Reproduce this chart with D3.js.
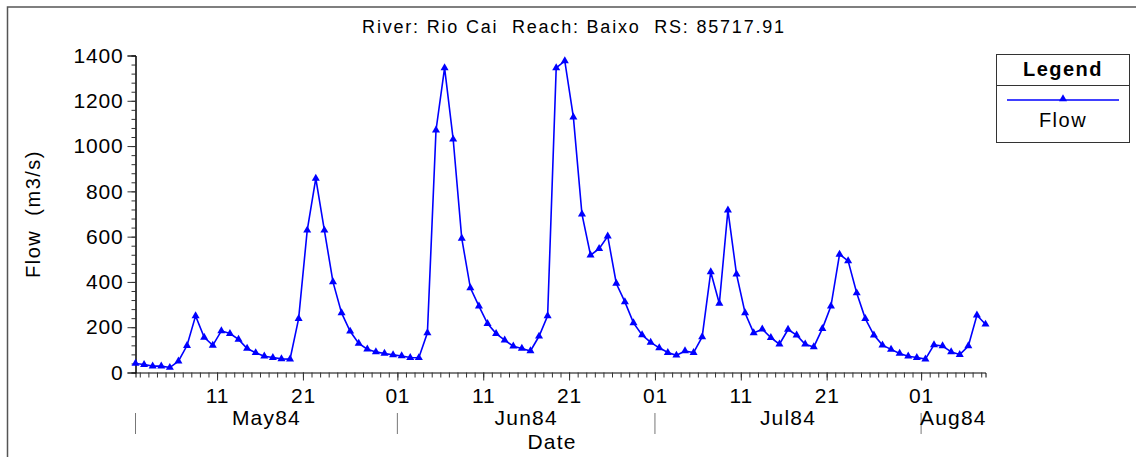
<!DOCTYPE html>
<html>
<head>
<meta charset="utf-8">
<script src="https://cdn.jsdelivr.net/npm/d3@7"></script>
<style>
body { margin: 0; background: #fff; }
svg text { font-family: "Liberation Sans", Arial, sans-serif; fill: #000; white-space: pre; }
</style>
</head>
<body>
<svg width="1136" height="457"></svg>
<script>
// daily flow (m3/s), one value per day at noon
const mayFlow = [40, 35, 28, 28, 22, 50, 119, 250, 155, 120, 184, 172, 146, 106, 87, 72, 66, 60, 59, 238, 628, 857, 628, 400, 263, 182, 128, 103, 91, 84, 78];
const junFlow = [73, 66, 65, 175, 1070, 1345, 1030, 592, 374, 293, 216, 172, 143, 116, 106, 95, 160, 250, 1345, 1376, 1128, 699, 518, 547, 602, 393, 312, 219, 166, 133];
const julFlow = [109, 88, 76, 95, 88, 157, 444, 305, 717, 434, 263, 175, 191, 154, 125, 190, 165, 125, 113, 194, 293, 522, 493, 351, 238, 165, 121, 102, 84, 72, 66];
const augFlow = [59, 122, 117, 91, 79, 117, 253, 213];

const monthIdx = [4, 5, 6, 7];
const monthLabels = ["May84", "Jun84", "Jul84", "Aug84"];
const yTicks = [0, 200, 400, 600, 800, 1000, 1200, 1400];
const dayTicks = [1, 11, 21];

const title = "River: Rio Cai  Reach: Baixo  RS: 85717.91";
const yTitle = "Flow  (m3/s)";
const xTitle = "Date";
const seriesName = "Flow";

const data = [];
[mayFlow, junFlow, julFlow, augFlow].forEach(function(arr, m) {
    arr.forEach(function(v, i) {
        data.push({date: new Date(Date.UTC(1984, monthIdx[m], i + 1, 12)), flow: v});
    });
});

var svg = d3.select("svg");
var plotL = 135.5, plotR = 985.5, plotT = 55.5, plotB = 372.5;

var x = d3.scaleUtc()
    .domain(d3.extent(data, function(d) { return d.date; }))
    .range([plotL, plotR]);
var y = d3.scaleLinear().domain([0, 1400]).range([plotB, plotT]);

// frame
svg.append("path").attr("d", "M7.5,457V7H1136")
    .attr("fill", "none").attr("stroke", "#555").attr("stroke-width", 1.5);

svg.append("text").attr("x", 574).attr("y", 33)
    .attr("text-anchor", "middle").attr("font-size", 18)
    .attr("letter-spacing", 1.8).text(title);

// y axis
svg.append("g").attr("transform", "translate(" + plotL + ",0)")
    .call(d3.axisLeft(y).tickValues(d3.range(0, 1401, 40)).tickSize(4).tickFormat(""))
    .call(g => g.selectAll("line").attr("stroke", "#333"));
var ya = svg.append("g").attr("transform", "translate(" + plotL + ",0)")
    .call(d3.axisLeft(y).tickValues(yTicks).tickSize(8).tickPadding(4).tickFormat(d3.format("d")))
    .call(g => g.selectAll("line").attr("stroke", "#333"));
ya.selectAll("text").attr("font-size", 21).attr("letter-spacing", 0.8)
    .attr("font-family", "Liberation Sans, Arial, sans-serif");
ya.select(".domain").attr("stroke", "#000");

// x axis
var days = d3.utcDay.range(d3.utcDay.ceil(x.domain()[0]), x.domain()[1]);
svg.append("g").attr("transform", "translate(0," + plotB + ")")
    .call(d3.axisBottom(x).tickValues(days).tickSize(5).tickFormat(""))
    .call(g => g.selectAll("line").attr("stroke", "#333"))
    .call(g => g.select(".domain").attr("stroke", "#000"));
var majors = days.filter(function(d) { return dayTicks.indexOf(d.getUTCDate()) >= 0; });
var xa = svg.append("g").attr("transform", "translate(0," + plotB + ")")
    .call(d3.axisBottom(x).tickValues(majors).tickSize(8).tickPadding(8)
        .tickFormat(d3.utcFormat("%d")))
    .call(g => g.select(".domain").remove())
    .call(g => g.selectAll("line").attr("stroke", "#333"));
xa.selectAll("text").attr("font-size", 21).attr("letter-spacing", 0.8)
    .attr("font-family", "Liberation Sans, Arial, sans-serif");

// month labels + separators
monthIdx.forEach(function(m, i) {
    var s = new Date(Date.UTC(1984, m, 1));
    var e = new Date(Date.UTC(1984, m + 1, 1));
    var x0 = x(s < x.domain()[0] ? x.domain()[0] : s);
    var x1 = x(e > x.domain()[1] ? x.domain()[1] : e);
    svg.append("line").attr("x1", x0).attr("x2", x0).attr("y1", 413).attr("y2", 434)
        .attr("stroke", "#777");
    svg.append("text").attr("x", (x0 + x1) / 2).attr("y", 425)
        .attr("text-anchor", "middle").attr("font-size", 21).attr("letter-spacing", 1.2)
        .text(monthLabels[i]);
});

svg.append("text").attr("x", 552).attr("y", 449).attr("text-anchor", "middle")
    .attr("font-size", 21).attr("letter-spacing", 1.2).text(xTitle);

svg.append("text").attr("transform", "translate(40,214) rotate(-90)")
    .attr("text-anchor", "middle").attr("font-size", 20).attr("letter-spacing", 1.5)
    .text(yTitle);

// series
var line = d3.line().x(function(d) { return x(d.date); }).y(function(d) { return y(d.flow); });
svg.append("path").datum(data).attr("d", line)
    .attr("fill", "none").attr("stroke", "#0000ff").attr("stroke-width", 1.6);

var tri = d3.symbol().type(d3.symbolTriangle).size(28);
svg.selectAll(".pt").data(data).enter().append("path")
    .attr("class", "pt")
    .attr("transform", function(d) { return "translate(" + x(d.date) + "," + y(d.flow) + ")"; })
    .attr("d", tri).attr("fill", "#0000ff");

// legend
var lg = svg.append("g");
lg.append("rect").attr("x", 996.5).attr("y", 54.5).attr("width", 133).attr("height", 88)
    .attr("fill", "#fff").attr("stroke", "#333");
lg.append("line").attr("x1", 996.5).attr("x2", 1129.5).attr("y1", 85.5).attr("y2", 85.5)
    .attr("stroke", "#333");
lg.append("text").attr("x", 1063).attr("y", 76).attr("text-anchor", "middle")
    .attr("font-size", 20).attr("font-weight", "bold").attr("letter-spacing", 1.5)
    .text("Legend");
lg.append("line").attr("x1", 1007).attr("x2", 1119).attr("y1", 100).attr("y2", 100)
    .attr("stroke", "#0000ff").attr("stroke-width", 1.6);
lg.append("path").attr("transform", "translate(1063,99)").attr("d", tri).attr("fill", "#0000ff");
lg.append("text").attr("x", 1063).attr("y", 127).attr("text-anchor", "middle")
    .attr("font-size", 20).attr("letter-spacing", 1.5).text(seriesName);
</script>
</body>
</html>
